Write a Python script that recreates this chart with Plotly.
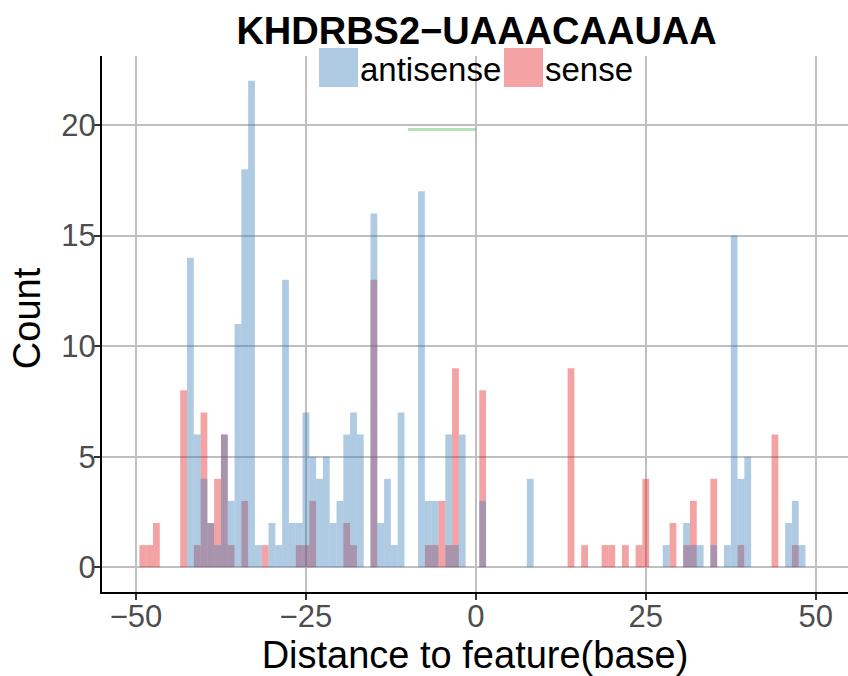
import plotly.graph_objects as go

# distance bins (centre of each 1-base bin) and counts per strand
antisense_pos = [-42, -41, -40, -39, -38, -37, -36, -35, -34, -33, -32, -30, -29, -28,
                 -27, -26, -25, -24, -23, -22, -21, -20, -19, -18, -17, -15, -14, -13,
                 -12, -11, -8, -7, -6, -4, -3, -2, 1, 8, 28, 31, 32, 33, 35, 37, 38,
                 39, 40, 46, 47, 48]
antisense_cnt = [14, 6, 4, 2, 1, 6, 3, 11, 18, 22, 1, 2, 1, 13,
                 2, 2, 7, 5, 4, 5, 2, 3, 6, 7, 6, 16, 2, 4,
                 1, 7, 17, 3, 3, 6, 1, 6, 3, 4, 1, 2, 1, 1, 1, 1, 15,
                 4, 5, 2, 3, 1]

sense_pos = [-49, -48, -47, -43, -41, -40, -39, -38, -37, -36, -34, -31, -26, -25,
             -24, -19, -18, -15, -7, -6, -5, -4, -3, 1, 14, 16, 19, 20, 22, 24, 25,
             29, 31, 32, 35, 39, 44, 47]
sense_cnt = [1, 1, 2, 8, 1, 7, 2, 4, 6, 1, 3, 1, 1, 1,
             3, 2, 1, 13, 1, 1, 3, 1, 9, 8, 9, 1, 1, 1, 1, 1, 4,
             2, 1, 3, 4, 1, 6, 1]

# green segment near the top
seg_x = [-10, 0]
seg_y = [19.8, 19.8]

x_ticks = [-50, -25, 0, 25, 50]
y_ticks = [0, 5, 10, 15, 20]

blue = "rgba(55,126,184,0.4)"
red = "rgba(228,26,28,0.4)"
green = "rgba(77,175,74,0.4)"
font = "Liberation Sans, Arial, sans-serif"

fig = go.Figure()
fig.add_trace(go.Bar(x=sense_pos, y=sense_cnt, width=1, name="sense",
                     marker=dict(color=red, line=dict(width=0)), showlegend=False))
fig.add_trace(go.Bar(x=antisense_pos, y=antisense_cnt, width=1, name="antisense",
                     marker=dict(color=blue, line=dict(width=0)), showlegend=False))
fig.add_trace(go.Scatter(x=seg_x, y=seg_y, mode="lines", showlegend=False,
                         line=dict(color=green, width=3)))

# legend drawn by hand (big square keys like ggplot), paper = plot area
legend_items = [("antisense", blue, 0.2909, 0.3458), ("sense", red, 0.5389, 0.5938)]
for label, col, kx, tx in legend_items:
    fig.add_shape(type="rect", xref="paper", yref="paper",
                  x0=kx, x1=kx + 0.0523, y0=0.942, y1=1.0149,
                  fillcolor=col, line=dict(width=0), layer="above")
    fig.add_annotation(text=label, xref="paper", yref="paper", x=tx, y=0.974,
                       xanchor="left", yanchor="middle", showarrow=False,
                       xshift=-2, font=dict(size=33, color="black", family=font))

# y axis title as annotation (the axis title gets squeezed against the page edge)
fig.add_annotation(text="Count", xref="paper", yref="paper", x=-0.1005, y=0.511,
                   xanchor="center", yanchor="middle", textangle=-90, showarrow=False,
                   font=dict(size=38, color="black", family=font))

axis_common = dict(showgrid=True, gridcolor="#C0C0C0", gridwidth=2, zeroline=False,
                   showline=True, linecolor="black", linewidth=2, automargin=False,
                   ticks="outside", ticklen=6, tickwidth=2, tickcolor="#333333",
                   tickfont=dict(size=31, color="#4D4D4D", family=font))

fig.update_xaxes(range=[-55.0, 54.75], tickvals=x_ticks,
                 ticktext=["\u221250", "\u221225", "0", "25", "50"],
                 ticklabelstandoff=-10,
                 title=dict(text="Distance to feature(base)", standoff=3,
                            font=dict(size=38, color="black", family=font)),
                 **axis_common)
fig.update_yaxes(range=[-1.12, 23.12], tickvals=y_ticks,
                 ticklabelstandoff=-8,
                 **axis_common)

fig.update_layout(
    width=848, height=676,
    barmode="overlay",
    plot_bgcolor="white", paper_bgcolor="white",
    margin=dict(l=102, r=0, t=56, b=84, autoexpand=False),
    title=dict(text="<b>KHDRBS2\u2212UAAACAAUAA</b>", x=0.562, xanchor="center",
               y=0.954, yanchor="middle",
               font=dict(size=38, color="black", family=font)),
    showlegend=False,
)

# page body has a default margin; drop it so the 848x676 figure fits the window
fig.write_html("out.html", config={"displayModeBar": False},
               post_script="document.body.style.margin='0';"
                           "document.body.style.overflow='hidden';")
